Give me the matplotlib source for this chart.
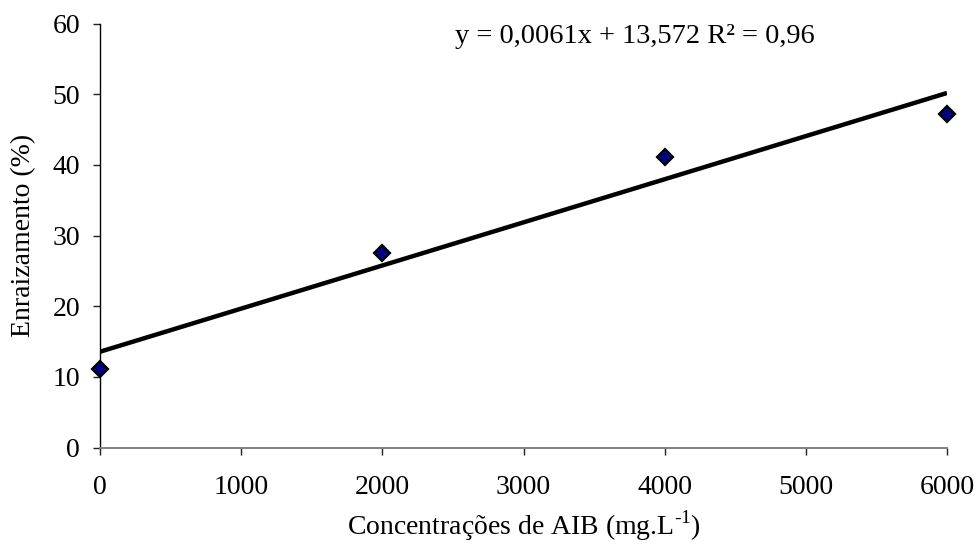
import matplotlib
matplotlib.use("Agg")
import matplotlib.pyplot as plt
import numpy as np

conc = [0, 2000, 4000, 6000]
enraiz = [11.1, 27.6, 41.1, 47.2]
slope = 0.0061
intercept = 13.572
r2_text = "0,96"
xticks = [0, 1000, 2000, 3000, 4000, 5000, 6000]
yticks = [0, 10, 20, 30, 40, 50, 60]

plt.rcParams['font.family'] = ['Liberation Serif', 'DejaVu Serif']
plt.rcParams['mathtext.fontset'] = 'custom'
plt.rcParams['mathtext.rm'] = 'Liberation Serif'
fs = 20

fig = plt.figure(figsize=(9.75, 5.48), dpi=100)
ax = fig.add_axes([100/975, 1-447.7/548, 847/975, (447.7-23.5)/548])

xl = np.array([conc[0], conc[-1]])
ax.plot(xl, slope*xl + intercept, color='black', lw=3.2, solid_capstyle='butt', zorder=2)
ax.plot(conc, enraiz, linestyle='none', marker='D', markersize=8.5,
        markerfacecolor='#000080', markeredgecolor='black', markeredgewidth=1.6, zorder=3, clip_on=False)

ax.set_xlim(0, 6000)
ax.set_ylim(0, 60)
ax.set_xticks(xticks)
ax.set_yticks(yticks)
ax.tick_params(axis='both', labelsize=fs, direction='out', length=5, width=1, color='#202020')
ax.tick_params(axis='x', pad=14.7)
ax.tick_params(axis='y', pad=9.4)
for s in ['top', 'right']:
    ax.spines[s].set_visible(False)
ax.spines['left'].set_color('black')
ax.spines['bottom'].set_color('#808080')
ax.spines['left'].set_linewidth(1)
ax.spines['bottom'].set_linewidth(1.4)

ax.set_xlabel('Concentrações de AIB (mg.L$^{\\mathrm{\u20101}}$)', fontsize=fs, labelpad=5.8)
ax.set_ylabel('Enraizamento (%)', fontsize=fs, labelpad=12)

ax.text(0.631, 0.954, 'y = 0,0061x + 13,572 R² = ' + r2_text, transform=ax.transAxes,
        fontsize=20.5, ha='center', va='baseline')

fig.savefig('out.png', dpi=100)
